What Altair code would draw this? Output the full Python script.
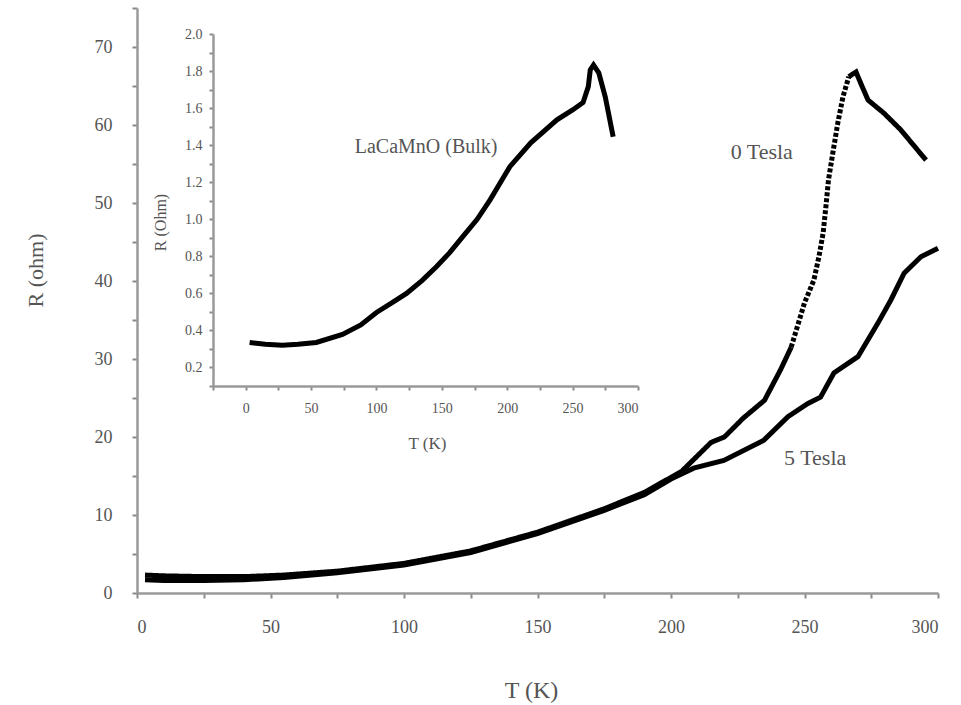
import altair as alt
import pandas as pd

FONT = "Liberation Serif"
TEXT = "#555555"
AXIS = "#9a9a9a"

# Film resistance versus temperature, zero field
t_zero = [3, 10, 25, 40, 55, 75, 100, 125, 150, 175, 190, 204, 215, 220, 227,
          235, 241, 245, 250, 253.5, 255.4, 257, 258, 259, 260.6, 262.5, 264.4,
          266.6, 269.3, 271, 273.8, 279.8, 286, 295.5]
r_zero = [2.3, 2.2, 2.1, 2.1, 2.3, 2.8, 3.8, 5.4, 7.8, 10.8, 12.9, 15.6, 19.3, 20.0, 22.4,
          24.7, 28.6, 31.5, 37.2, 40.1, 43.1, 46.2, 49.5, 53.0, 56.4, 60.3, 63.6,
          66.2, 66.8, 65.4, 63.2, 61.5, 59.4, 55.5]

# Film resistance versus temperature, 5 T field
t_five = [3, 10, 25, 40, 55, 75, 100, 125, 150, 175, 190, 200, 208.5, 219.8, 234.8,
          243.8, 251.3, 256, 261, 270, 277.5, 282.4, 287.3, 293.6, 300]
r_five = [1.7, 1.6, 1.6, 1.7, 2.0, 2.6, 3.6, 5.2, 7.6, 10.6, 12.6, 14.6, 16.0, 17.0, 19.6,
          22.6, 24.3, 25.1, 28.2, 30.3, 34.6, 37.6, 41.0, 43.1, 44.2]

# Bulk sample (inset)
t_bulk = [3, 15, 28, 40, 54, 74, 88, 100, 112, 123, 135, 146, 156, 166, 177, 187, 202,
          218, 238, 250, 258, 262, 263.5, 266, 270, 275, 281]
r_bulk = [0.335, 0.325, 0.32, 0.325, 0.335, 0.378, 0.43, 0.497, 0.55, 0.60, 0.67, 0.745,
          0.82, 0.906, 1.0, 1.106, 1.284, 1.413, 1.537, 1.59, 1.63, 1.716, 1.806, 1.833,
          1.79, 1.66, 1.445]

curve_labels = ["0 Tesla", "5 Tesla"]
curve_label_t = [234, 254]
curve_label_r = [56.5, 17.3]

bulk_label = ["LaCaMnO (Bulk)"]
bulk_label_t = [138]
bulk_label_r = [1.39]

# Tick positions
main_t_ticks = list(range(0, 301, 25))
main_r_ticks = list(range(0, 76, 5))
bulk_t_ticks = list(range(-25, 301, 25))
bulk_r_ticks = [round(0.1 * k, 1) for k in range(1, 21)]

# The steep part of the zero-field transition is drawn dotted
DOT_START, DOT_END = 245, 266.6
rows = []
for t, r in zip(t_zero, r_zero):
    if t <= DOT_START:
        rows.append({"T": t, "R": r, "part": "low", "style": "solid"})
    if DOT_START <= t <= DOT_END:
        rows.append({"T": t, "R": r, "part": "mid", "style": "dotted"})
    if t >= DOT_END:
        rows.append({"T": t, "R": r, "part": "high", "style": "solid"})
zero_df = pd.DataFrame(rows)

five_df = pd.DataFrame({"T": t_five, "R": r_five})
bulk_df = pd.DataFrame({"T": t_bulk, "R": r_bulk})
lab_df = pd.DataFrame({"T": curve_label_t, "R": curve_label_r, "text": curve_labels})
bulk_lab_df = pd.DataFrame({"T": bulk_label_t, "R": bulk_label_r, "text": bulk_label})

W, H = 801, 585

# Scales: main panel fills the view, the inset sits in its upper left part
main_t_scale = alt.Scale(domain=[0, 300], nice=False, zero=False)
main_r_scale = alt.Scale(domain=[0, 75], nice=False, zero=False)
bulk_t_scale = alt.Scale(domain=[-25, 300], range=[76, 501], nice=False, zero=False)
bulk_r_scale = alt.Scale(domain=[0.1, 2.0], range=[378, 26], nice=False, zero=False)

# ---- main panel -------------------------------------------------------
main_x = alt.X(
    "T:Q",
    scale=main_t_scale,
    axis=alt.Axis(
        values=main_t_ticks,
        labelExpr="datum.value % 50 === 0 ? datum.label : ''",
        tickSize=5,
        labelFontSize=18, labelPadding=20,
        title="T (K)", titleFontSize=24, titleFontWeight="normal",
        titleX=394, titleY=97, titleBaseline="middle", titleAlign="center",
    ),
)
main_y = alt.Y(
    "R:Q",
    scale=main_r_scale,
    axis=alt.Axis(
        values=main_r_ticks,
        labelExpr="datum.value % 10 === 0 ? datum.label : ''",
        tickSize=5,
        labelFontSize=18, labelPadding=20,
        title="R (ohm)", titleFontSize=22, titleFontWeight="normal",
        titleX=-102, titleY=262, titleBaseline="middle", titleAlign="center",
    ),
)

zero_line = alt.Chart(zero_df).mark_line(color="black", strokeWidth=5).encode(
    x=main_x,
    y=main_y,
    detail="part:N",
    order="T:Q",
    strokeDash=alt.StrokeDash(
        "style:N",
        scale=alt.Scale(domain=["solid", "dotted"], range=[[1, 0], [4, 2]]),
        legend=None,
    ),
)
five_line = alt.Chart(five_df).mark_line(color="black", strokeWidth=5).encode(
    x=alt.X("T:Q", scale=main_t_scale, axis=None),
    y=alt.Y("R:Q", scale=main_r_scale, axis=None),
    order="T:Q",
)
curve_text = alt.Chart(lab_df).mark_text(font=FONT, fontSize=22, color=TEXT).encode(
    x=alt.X("T:Q", scale=main_t_scale, axis=None),
    y=alt.Y("R:Q", scale=main_r_scale, axis=None),
    text="text:N",
)

# ---- inset panel (bulk sample) ---------------------------------------
inset_x = alt.X(
    "T:Q",
    scale=bulk_t_scale,
    axis=alt.Axis(
        orient="bottom", offset=-207,
        values=bulk_t_ticks,
        labelExpr="datum.value >= 0 && datum.value % 50 === 0 ? datum.label : ''",
        tickSize=4,
        labelFontSize=14, labelPadding=11,
        title="T (K)", titleFontSize=17, titleFontWeight="normal",
        titleX=290, titleY=57, titleBaseline="middle", titleAlign="center",
    ),
)
inset_y = alt.Y(
    "R:Q",
    scale=bulk_r_scale,
    axis=alt.Axis(
        orient="left", offset=-76,
        values=bulk_r_ticks,
        format=".1f",
        labelExpr="round(datum.value * 10) % 2 == 0 ? datum.label : ''",
        tickSize=4,
        labelFontSize=14, labelPadding=7,
        title="R (Ohm)", titleFontSize=16, titleFontWeight="normal",
        titleX=-53, titleY=214, titleBaseline="middle", titleAlign="center",
    ),
)

bulk_line = alt.Chart(bulk_df).mark_line(color="black", strokeWidth=5).encode(
    x=inset_x, y=inset_y, order="T:Q"
)
bulk_text = alt.Chart(bulk_lab_df).mark_text(font=FONT, fontSize=20, color=TEXT).encode(
    x=alt.X("T:Q", scale=bulk_t_scale, axis=None),
    y=alt.Y("R:Q", scale=bulk_r_scale, axis=None),
    text="text:N",
)

chart = (
    alt.layer(zero_line, five_line, curve_text, bulk_line, bulk_text)
    .resolve_scale(x="independent", y="independent")
    .properties(
        width=W,
        height=H,
        autosize=alt.AutoSizeParams(type="none"),
        padding={"left": 137, "top": 8, "right": 23, "bottom": 112},
        background="white",
    )
    .configure_view(stroke="transparent")
    .configure_axis(
        grid=False,
        domainColor=AXIS,
        domainWidth=2.5,
        tickColor="#8a8a8a",
        tickWidth=2,
        labelFont=FONT,
        titleFont=FONT,
        labelColor=TEXT,
        titleColor=TEXT,
    )
)

chart.save("out.html", embed_options={"renderer": "svg", "actions": False})
